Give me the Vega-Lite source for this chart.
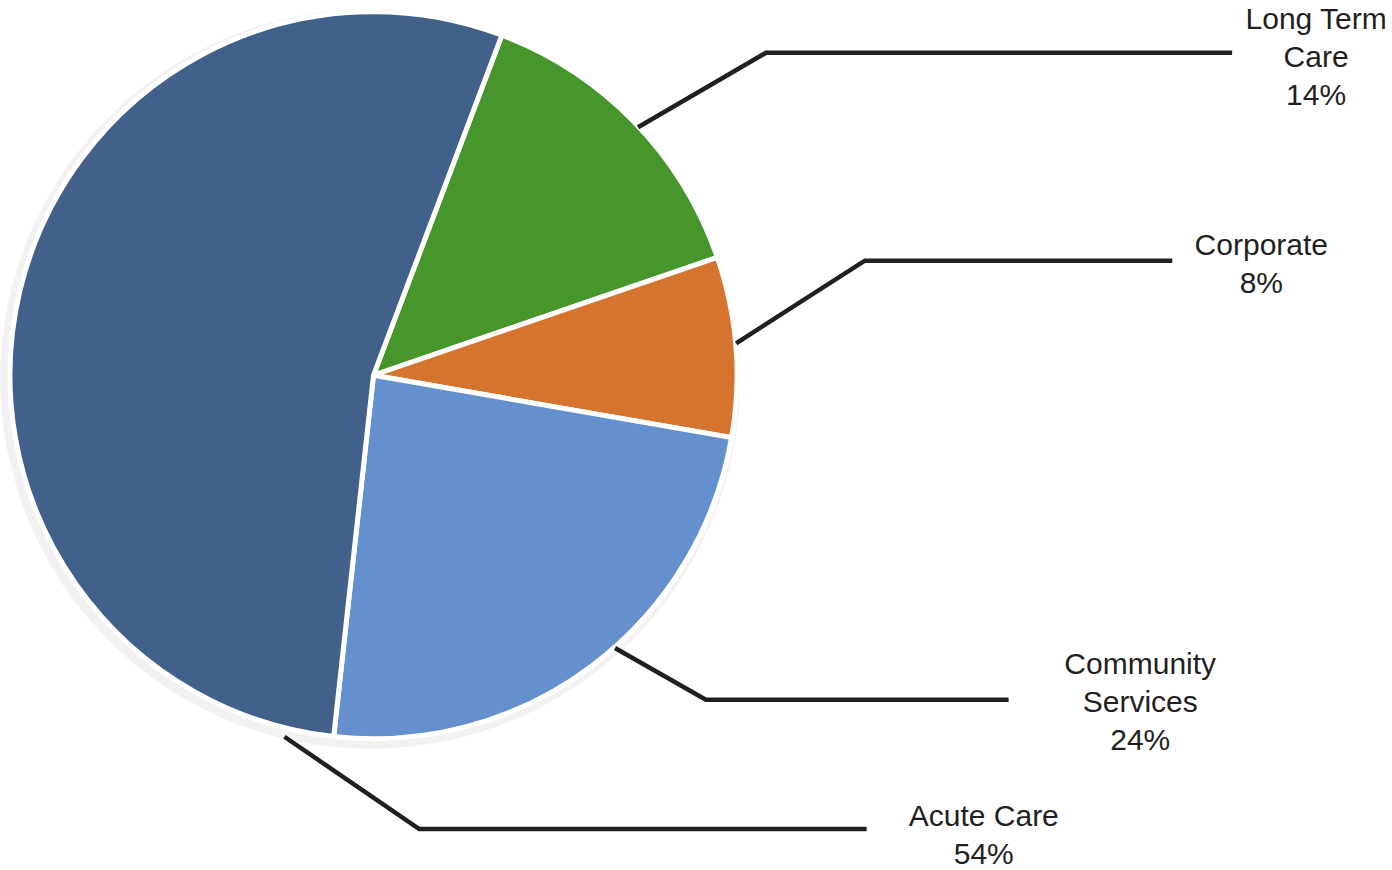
{
  "$schema": "https://vega.github.io/schema/vega-lite/v6.json",
  "width": 1392,
  "height": 870,
  "padding": 0,
  "autosize": {"type": "fit", "contains": "padding"},
  "background": "white",
  "config": {"view": {"stroke": null}},
  "datasets": {
    "slices": [
      {"category": "Long Term Care", "value": 14, "order": 1, "label": "Long Term\nCare\n14%", "lx": 261.5, "ly": 98.9},
      {"category": "Corporate", "value": 8, "order": 2, "label": "Corporate\n8%", "lx": 246.3, "ly": 36.0},
      {"category": "Community Services", "value": 24, "order": 3, "label": "Community\nServices\n24%", "lx": 212.7, "ly": -80.7},
      {"category": "Acute Care", "value": 54, "order": 4, "label": "Acute Care\n54%", "lx": 169.3, "ly": -122.9}
    ],
    "leaders": [
      {"category": "Long Term Care", "seq": 1, "x": 73.4, "y": 69.0},
      {"category": "Long Term Care", "seq": 2, "x": 108.9, "y": 89.75},
      {"category": "Long Term Care", "seq": 3, "x": 238.2, "y": 89.75},
      {"category": "Corporate", "seq": 1, "x": 100.6, "y": 8.9},
      {"category": "Corporate", "seq": 2, "x": 136.3, "y": 31.9},
      {"category": "Corporate", "seq": 3, "x": 221.6, "y": 31.9},
      {"category": "Community Services", "seq": 1, "x": 67.0, "y": -75.9},
      {"category": "Community Services", "seq": 2, "x": 92.2, "y": -90.3},
      {"category": "Community Services", "seq": 3, "x": 176.2, "y": -90.3},
      {"category": "Acute Care", "seq": 1, "x": -24.7, "y": -100.6},
      {"category": "Acute Care", "seq": 2, "x": 12.7, "y": -126.3},
      {"category": "Acute Care", "seq": 3, "x": 136.8, "y": -126.3}
    ]
  },
  "layer": [
    {
      "data": {"name": "slices"},
      "transform": [{"filter": "datum.order == 4"}],
      "mark": {"type": "arc", "outerRadius": 370, "theta": 0, "theta2": 6.2832, "fill": "#ececec", "stroke": null, "opacity": 0.7},
      "encoding": {
        "x": {"datum": -0.9, "type": "quantitative", "scale": {"domain": [-103.05, 282.55], "nice": false, "zero": false}, "axis": null},
        "y": {"datum": -1.0, "type": "quantitative", "scale": {"domain": [-136.57, 104.43], "nice": false, "zero": false}, "axis": null}
      }
    },
    {
      "data": {"name": "slices"},
      "mark": {"type": "arc", "outerRadius": 363.5, "stroke": "white", "strokeWidth": 5, "strokeJoin": "miter"},
      "encoding": {
        "x": {"datum": 0, "type": "quantitative", "scale": {"domain": [-103.05, 282.55], "nice": false, "zero": false}, "axis": null},
        "y": {"datum": 0, "type": "quantitative", "scale": {"domain": [-136.57, 104.43], "nice": false, "zero": false}, "axis": null},
        "theta": {"field": "value", "type": "quantitative", "stack": true, "scale": {"range": [0.361, 6.6442]}},
        "order": {"field": "order", "type": "quantitative"},
        "color": {
          "field": "category",
          "type": "nominal",
          "scale": {
            "domain": ["Long Term Care", "Corporate", "Community Services", "Acute Care"],
            "range": ["#47962b", "#d4742f", "#6490ce", "#41618a"]
          },
          "legend": null
        }
      }
    },
    {
      "data": {"name": "leaders"},
      "mark": {"type": "line", "stroke": "#231f20", "strokeWidth": 4.5, "strokeJoin": "miter"},
      "encoding": {
        "x": {"field": "x", "type": "quantitative", "scale": {"domain": [-103.05, 282.55], "nice": false, "zero": false}, "axis": null},
        "y": {"field": "y", "type": "quantitative", "scale": {"domain": [-136.57, 104.43], "nice": false, "zero": false}, "axis": null},
        "detail": {"field": "category", "type": "nominal"},
        "order": {"field": "seq", "type": "quantitative"}
      }
    },
    {
      "data": {"name": "slices"},
      "mark": {"type": "text", "font": "Liberation Sans, Arial, Helvetica, sans-serif", "fontSize": 30, "lineHeight": 38, "lineBreak": "\n", "align": "center", "baseline": "middle", "fill": "#231f20"},
      "encoding": {
        "x": {"field": "lx", "type": "quantitative", "scale": {"domain": [-103.05, 282.55], "nice": false, "zero": false}, "axis": null},
        "y": {"field": "ly", "type": "quantitative", "scale": {"domain": [-136.57, 104.43], "nice": false, "zero": false}, "axis": null},
        "text": {"field": "label", "type": "nominal"}
      }
    }
  ]
}
